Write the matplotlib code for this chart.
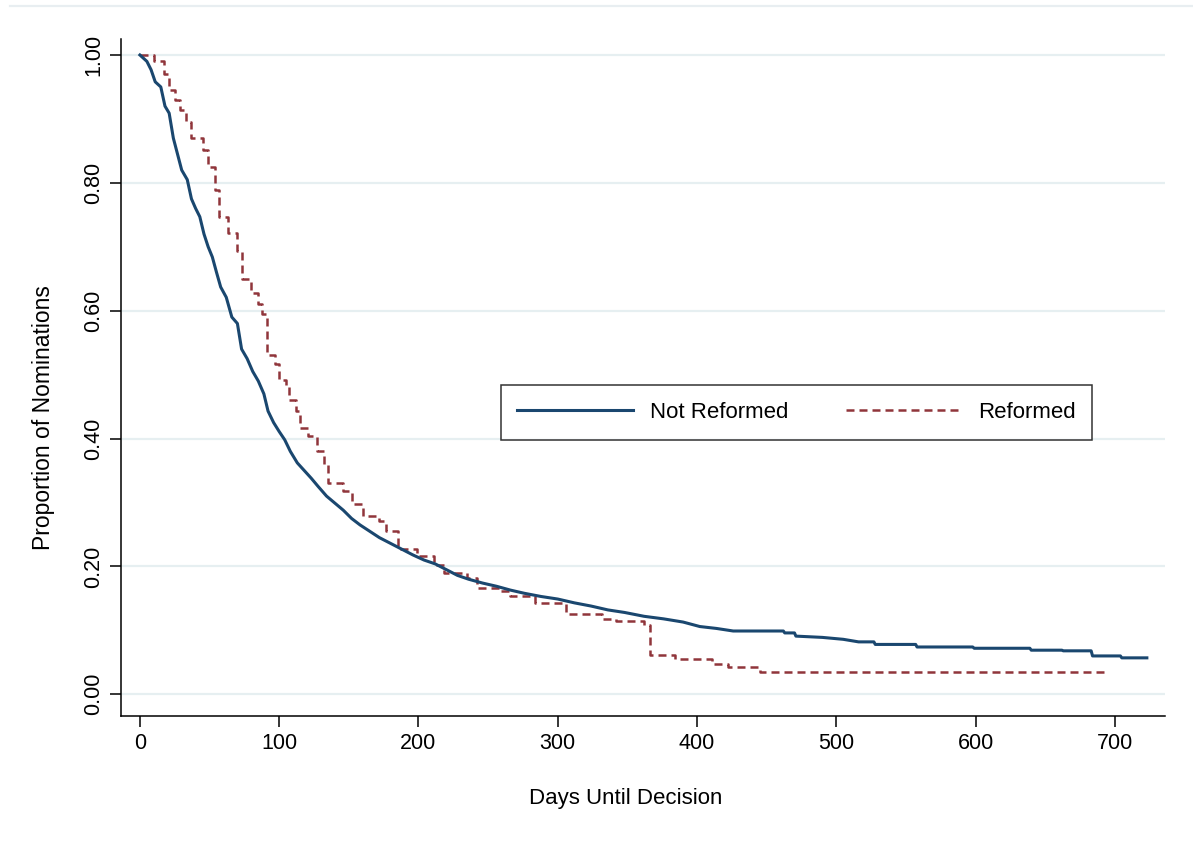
import matplotlib.pyplot as plt
import numpy as np
from matplotlib.lines import Line2D

plt.rcParams['font.family'] = ['Liberation Sans', 'DejaVu Sans']

#Kaplan-Meier estimates (day, proportion still pending)
#Not Reformed has many small steps early on, so it is traced point to point;
#the bigger steps in its tail are given as corner pairs
days_not_reformed = [0, 5, 8, 11, 15, 18, 21, 24, 27, 30, 34, 37, 40, 43, 46, 49,
                     52, 55, 58, 62, 66, 70, 73, 77, 81, 85, 89, 92, 96, 100, 104,
                     108, 113, 118, 123, 128, 134, 140, 146, 152, 158, 165, 172,
                     180, 188, 196, 204, 212, 220, 228, 236, 246, 256, 266, 276,
                     288, 300, 312, 324, 336, 348, 362, 376, 390, 402, 414, 426,
                     462, 463, 470, 471, 490, 505, 516, 527, 528, 557, 558, 598,
                     599, 639, 640, 662, 663, 683, 684, 704, 705, 723]
surv_not_reformed = [1.0, 0.99, 0.977, 0.958, 0.95, 0.92, 0.909, 0.87, 0.845, 0.82,
                     0.805, 0.775, 0.76, 0.747, 0.72, 0.70, 0.684, 0.66, 0.637,
                     0.621, 0.59, 0.58, 0.54, 0.525, 0.505, 0.49, 0.47, 0.443,
                     0.425, 0.411, 0.398, 0.38, 0.362, 0.35, 0.338, 0.325, 0.31,
                     0.299, 0.288, 0.275, 0.265, 0.255, 0.245, 0.236, 0.227,
                     0.218, 0.21, 0.204, 0.195, 0.186, 0.18, 0.174, 0.169, 0.163,
                     0.158, 0.153, 0.149, 0.143, 0.138, 0.132, 0.128, 0.122,
                     0.118, 0.113, 0.106, 0.103, 0.099, 0.099, 0.096, 0.096,
                     0.091, 0.089, 0.086, 0.082, 0.082, 0.078, 0.078, 0.074,
                     0.074, 0.072, 0.072, 0.069, 0.069, 0.068, 0.068, 0.060,
                     0.060, 0.057, 0.057]

days_reformed = [0, 10, 17, 21, 25, 29, 33, 37, 45, 49, 54, 57, 63, 70, 73, 80,
                 85, 88, 91, 97, 100, 105, 107, 112, 115, 121, 127, 132, 135,
                 146, 152, 160, 172, 177, 185, 199, 211, 218, 235, 242, 258, 266,
                 284, 306, 332, 342, 362, 366, 384, 411, 422, 445, 696]
surv_reformed = [1.0, 0.99, 0.971, 0.945, 0.93, 0.914, 0.895, 0.87, 0.851, 0.825,
                 0.789, 0.747, 0.721, 0.694, 0.65, 0.627, 0.61, 0.595, 0.53,
                 0.516, 0.492, 0.484, 0.461, 0.443, 0.417, 0.404, 0.38, 0.36,
                 0.331, 0.318, 0.297, 0.279, 0.271, 0.255, 0.227, 0.216, 0.203,
                 0.19, 0.182, 0.166, 0.161, 0.154, 0.143, 0.125, 0.118, 0.114,
                 0.108, 0.062, 0.055, 0.048, 0.043, 0.035, 0.035]

x_ticks = [0, 100, 200, 300, 400, 500, 600, 700]
y_ticks = [0.0, 0.2, 0.4, 0.6, 0.8, 1.0]
y_tick_labels = ['0.00', '0.20', '0.40', '0.60', '0.80', '1.00']

blue = '#1a476f'
maroon = '#90353b'
grid_col = '#e6eff1'

fig = plt.figure(figsize=(11.93, 8.63), dpi=100)
ax = fig.add_axes([0.1014, 0.1703, 0.8751, 0.7845])

#grid lines behind the curves
for yv in y_ticks:
    ax.axhline(yv, color=grid_col, lw=1.6, zorder=0)

ax.plot(days_not_reformed, surv_not_reformed, color=blue,
        lw=2.2, label='Not Reformed', zorder=3)
ax.step(days_reformed, surv_reformed, where='post', color=maroon,
        lw=1.8, dashes=(3.2, 2.0), label='Reformed', zorder=2)

ax.set_xlim(-13.6, 736)
ax.set_ylim(-0.034, 1.025)

ax.set_xticks(x_ticks)
ax.set_yticks(y_ticks)
ax.set_yticklabels(y_tick_labels, rotation=90, va='center')
ax.tick_params(axis='both', direction='out', length=8, width=1.1,
               labelsize=15.5, colors='black', pad=4)

for side in ['top', 'right']:
    ax.spines[side].set_visible(False)
for side in ['left', 'bottom']:
    ax.spines[side].set_linewidth(1.1)

ax.set_xlabel('Days Until Decision', fontsize=16)
ax.xaxis.set_label_coords(0.483, -0.106)
ax.xaxis.label.set_va('top')
ax.set_ylabel('Proportion of Nominations', fontsize=16.5)
ax.yaxis.set_label_coords(-0.0632, 0.441)

#legend box with two columns
leg = ax.legend(loc='center', bbox_to_anchor=(0.6677, 0.522),
                bbox_transform=fig.transFigure, ncol=2, fontsize=16,
                frameon=True, fancybox=False, handlelength=5.2,
                handletextpad=0.75, columnspacing=2.6, borderpad=0.75)
leg.get_frame().set_edgecolor('black')
leg.get_frame().set_linewidth(1.1)

#faint outer border line at the top of the graph region
fig.add_artist(Line2D([10/1193, 1.0], [1 - 6/863, 1 - 6/863],
                      transform=fig.transFigure, color='#e8eef1', lw=1.6))

fig.savefig('out.png', dpi=100)
